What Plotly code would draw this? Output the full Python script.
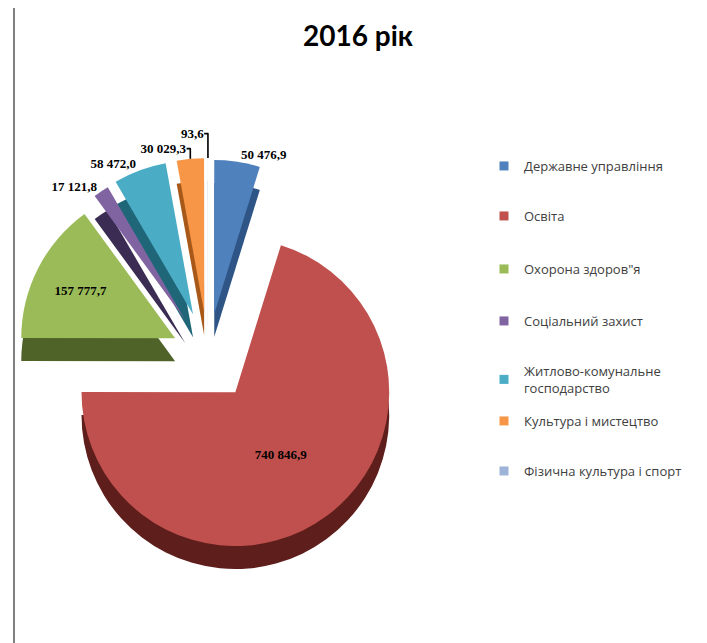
import plotly.graph_objects as go

# ---- data ----
categories = [
    "Державне управління",
    "Освіта",
    "Охорона здоров\"я",
    "Соціальний захист",
    "Житлово-комунальне<br>господарство",
    "Культура і мистецтво",
    "Фізична культура і спорт",
]
values = [50476.9, 740846.9, 157777.7, 17121.8, 58472.0, 30029.3, 93.6]
title_text = "2016 рік"

# ---- styles ----
top_colors = ["#4F81BD", "#C0504D", "#9BBB59", "#8064A2", "#4BACC6", "#F79646", "#9DB3D8"]
side_colors = ["#2F5586", "#5E1E1C", "#4F6228", "#3A2C52", "#1F6678", "#A8591A", "#6A84AA"]
pulls = [0.27, 0.3, 0.24, 0.27, 0.28, 0.28, 0.28]
text_pos = ["outside", "inside", "inside", "outside", "outside", "outside", "outside"]
legend_rows_px = [165, 215, 268, 320, 370, 420, 470]


def fmt(v):
    return f"{v:,.1f}".replace(",", " ").replace(".", ",")


labels_txt = [fmt(v) for v in values]

W, H = 707, 643
cx, cy, half = 200, 347, 200
depth = 23
dx = [max(0.0, (cx - half) / W), (cx + half) / W]
dy_top = [(H - cy - half) / H, (H - cy + half) / H]
dy_side = [dy_top[0] - depth / H, dy_top[1] - depth / H]

fig = go.Figure()

# side (3D thickness) layer
fig.add_trace(go.Pie(
    labels=categories, values=values, sort=False, direction="clockwise",
    rotation=0, pull=pulls, marker=dict(colors=side_colors, line=dict(width=0)),
    textinfo="none", hoverinfo="skip", showlegend=False,
    domain=dict(x=dx, y=dy_side),
))

# top face
fig.add_trace(go.Pie(
    labels=categories, values=values, sort=False, direction="clockwise",
    rotation=0, pull=pulls, marker=dict(colors=top_colors, line=dict(width=0)),
    text=labels_txt, textinfo="text", textposition=text_pos,
    insidetextorientation="horizontal",
    textfont=dict(family="Liberation Serif", size=13, color="black", weight="bold"),
    outsidetextfont=dict(family="Liberation Serif", size=13, color="black", weight="bold"),
    showlegend=False,
    domain=dict(x=dx, y=dy_top),
))

layout_legends = {}
for i, (cat, col, ypx) in enumerate(zip(categories, top_colors, legend_rows_px)):
    lname = "legend" if i == 0 else f"legend{i + 1}"
    fig.add_trace(go.Scatter(
        x=[None], y=[None], mode="markers", name=cat,
        marker=dict(symbol="square", size=9, color=col),
        showlegend=True, legend=lname,
    ))
    layout_legends[lname] = dict(
        x=476 / W, y=1 - (ypx - 22) / H, xanchor="left", yanchor="top",
        font=dict(family="Open Sans", size=13, color="#404040"),
        itemwidth=30, bgcolor="rgba(0,0,0,0)",
    )

fig.update_layout(
    width=W, height=H,
    paper_bgcolor="white", plot_bgcolor="white",
    margin=dict(l=0, r=0, t=0, b=0, autoexpand=False),
    xaxis=dict(visible=False), yaxis=dict(visible=False),
    title=dict(text=f"<b>{title_text}</b>", x=350 / W, xanchor="center", y=1 - 28 / H, yanchor="middle",
               font=dict(family="Lato", size=28, color="black")),
    shapes=[dict(type="line", xref="paper", yref="paper", x0=6 / W, x1=6 / W, y0=0, y1=1,
                 line=dict(color="#7F7F7F", width=2))],
    **layout_legends,
)

fig.write_html("out.html")
